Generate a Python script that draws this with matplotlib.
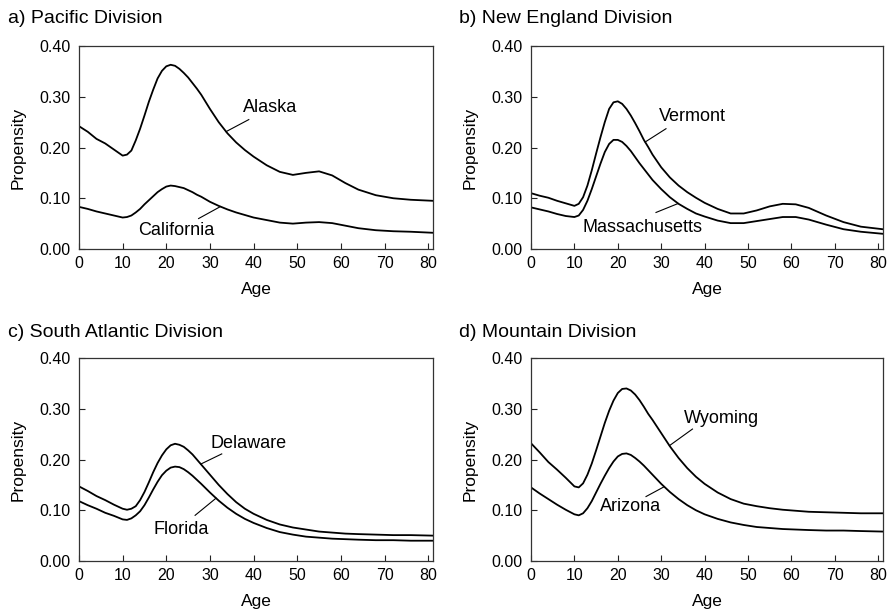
import numpy as np
import matplotlib
matplotlib.use("Agg")
import matplotlib.pyplot as plt

plt.rcParams["font.family"] = ["Liberation Sans", "DejaVu Sans"]

ages = [0, 2, 4, 6, 8, 10, 11, 12, 13, 14, 15, 16, 17, 18, 19, 20, 21, 22, 23, 24,
        25, 26, 27, 28, 30, 32, 34, 36, 38, 40, 43, 46, 49, 52, 55, 58, 61, 64, 68,
        72, 76, 81]

alaska = [0.242, 0.231, 0.217, 0.208, 0.196, 0.184, 0.186, 0.194, 0.214, 0.237,
          0.263, 0.290, 0.314, 0.336, 0.351, 0.360, 0.363, 0.361, 0.355, 0.347,
          0.338, 0.327, 0.316, 0.304, 0.276, 0.250, 0.228, 0.210, 0.195, 0.182,
          0.165, 0.152, 0.146, 0.150, 0.153, 0.145, 0.130, 0.117, 0.106, 0.100,
          0.097, 0.095]
california = [0.083, 0.079, 0.074, 0.070, 0.066, 0.062, 0.063, 0.066, 0.072, 0.079,
              0.088, 0.096, 0.104, 0.112, 0.118, 0.123, 0.125, 0.124, 0.122, 0.120,
              0.116, 0.112, 0.107, 0.103, 0.093, 0.085, 0.078, 0.072, 0.067, 0.062,
              0.057, 0.052, 0.050, 0.052, 0.053, 0.051, 0.046, 0.041, 0.037, 0.035,
              0.034, 0.032]
vermont = [0.110, 0.105, 0.101, 0.095, 0.090, 0.085, 0.089, 0.102, 0.125, 0.155,
           0.188, 0.220, 0.250, 0.276, 0.289, 0.291, 0.286, 0.276, 0.263, 0.248,
           0.232, 0.215, 0.201, 0.186, 0.161, 0.141, 0.125, 0.112, 0.101, 0.091,
           0.079, 0.070, 0.070, 0.076, 0.084, 0.089, 0.088, 0.081, 0.066, 0.053,
           0.044, 0.039]
massachusetts = [0.082, 0.078, 0.074, 0.069, 0.065, 0.063, 0.066, 0.077, 0.095, 0.118,
                 0.143, 0.168, 0.191, 0.207, 0.215, 0.215, 0.211, 0.203, 0.193, 0.181,
                 0.169, 0.158, 0.147, 0.136, 0.118, 0.102, 0.089, 0.079, 0.070, 0.064,
                 0.056, 0.051, 0.051, 0.055, 0.059, 0.063, 0.063, 0.058, 0.048, 0.039,
                 0.034, 0.030]
delaware = [0.147, 0.138, 0.128, 0.120, 0.111, 0.103, 0.101, 0.103, 0.108, 0.120,
            0.136, 0.155, 0.175, 0.193, 0.208, 0.220, 0.228, 0.231, 0.229, 0.225,
            0.218, 0.210, 0.200, 0.190, 0.170, 0.150, 0.132, 0.116, 0.103, 0.093,
            0.081, 0.072, 0.066, 0.062, 0.058, 0.056, 0.054, 0.053, 0.052, 0.051,
            0.051, 0.050]
florida = [0.118, 0.110, 0.103, 0.095, 0.089, 0.082, 0.081, 0.084, 0.090, 0.098,
           0.110, 0.125, 0.141, 0.156, 0.169, 0.178, 0.184, 0.186, 0.185, 0.181,
           0.175, 0.168, 0.160, 0.152, 0.135, 0.119, 0.105, 0.093, 0.083, 0.075,
           0.065, 0.057, 0.052, 0.048, 0.046, 0.044, 0.043, 0.042, 0.041, 0.041,
           0.040, 0.040]
wyoming = [0.232, 0.214, 0.195, 0.180, 0.164, 0.147, 0.145, 0.153, 0.170, 0.192,
           0.218, 0.245, 0.272, 0.296, 0.316, 0.331, 0.339, 0.340, 0.336, 0.328,
           0.317, 0.304, 0.290, 0.278, 0.252, 0.226, 0.203, 0.183, 0.166, 0.152,
           0.135, 0.122, 0.113, 0.108, 0.104, 0.101, 0.099, 0.097, 0.096, 0.095,
           0.094, 0.094]
arizona = [0.145, 0.133, 0.122, 0.111, 0.101, 0.092, 0.090, 0.094, 0.104, 0.118,
           0.135, 0.152, 0.168, 0.183, 0.196, 0.206, 0.211, 0.212, 0.209, 0.203,
           0.196, 0.188, 0.179, 0.170, 0.152, 0.136, 0.122, 0.110, 0.100, 0.092,
           0.083, 0.076, 0.071, 0.067, 0.065, 0.063, 0.062, 0.061, 0.060, 0.060,
           0.059, 0.058]

titles = ["a) Pacific Division", "b) New England Division",
          "c) South Atlantic Division", "d) Mountain Division"]

# (series, name, text position, leader start, leader end age)
panels = [
    [(alaska, "Alaska", (43.7, 0.278), (38.9, 0.255), 33.7),
     (california, "California", (22.2, 0.037), (27.4, 0.060), 32.4)],
    [(vermont, "Vermont", (37.1, 0.261), (31.1, 0.237), 26.3),
     (massachusetts, "Massachusetts", (25.7, 0.043), (28.8, 0.072), 33.9)],
    [(delaware, "Delaware", (38.8, 0.232), (32.7, 0.211), 27.9),
     (florida, "Florida", (23.4, 0.063), (26.6, 0.090), 31.4)],
    [(wyoming, "Wyoming", (43.8, 0.280), (37.2, 0.260), 31.9),
     (arizona, "Arizona", (23.0, 0.107), (26.5, 0.127), 30.7)],
]

W, H = 893, 612
fig = plt.figure(figsize=(W / 100, H / 100), dpi=100)

# axes boxes in pixels: left, top, right, bottom
boxes = [(79, 46, 433, 249), (531, 46, 883, 249),
         (79, 358, 433, 561), (531, 358, 883, 561)]
title_xy = [(8, 23), (459, 23), (8, 337), (459, 337)]

for i, (box, title, series) in enumerate(zip(boxes, titles, panels)):
    l, t, r, b = box
    ax = fig.add_axes([l / W, 1 - b / H, (r - l) / W, (b - t) / H])
    for vals, name, txt, start, end_age in series:
        ax.plot(ages, vals, color="black", lw=1.3)
        end_y = np.interp(end_age, ages, vals)
        ax.plot([start[0], end_age], [start[1], end_y], color="black", lw=0.8)
        ax.text(txt[0], txt[1], name, fontsize=13, ha="center", va="center")
    ax.set_xlim(0, 81.1)
    ax.set_ylim(0, 0.40)
    ax.set_xticks(range(0, 81, 10))
    ax.set_yticks([0, 0.1, 0.2, 0.3, 0.4])
    ax.set_yticklabels(["0.00", "0.10", "0.20", "0.30", "0.40"])
    ax.tick_params(direction="in", length=4, width=0.8, labelsize=11.5,
                   colors="#222222", labelcolor="black")
    ax.tick_params(axis="x", pad=5)
    ax.tick_params(axis="y", pad=6)
    for sp in ax.spines.values():
        sp.set_linewidth(0.9)
        sp.set_color("#333333")
    ax.set_xlabel("Age", fontsize=12.5)
    ax.set_ylabel("Propensity", fontsize=12.5)
    ax.xaxis.set_label_coords(0.5, -0.163)
    ax.yaxis.set_label_coords(-0.152, 0.5)
    fig.text(title_xy[i][0] / W, 1 - title_xy[i][1] / H, title,
             fontsize=14, ha="left", va="baseline")

fig.savefig("out.png", dpi=100)
